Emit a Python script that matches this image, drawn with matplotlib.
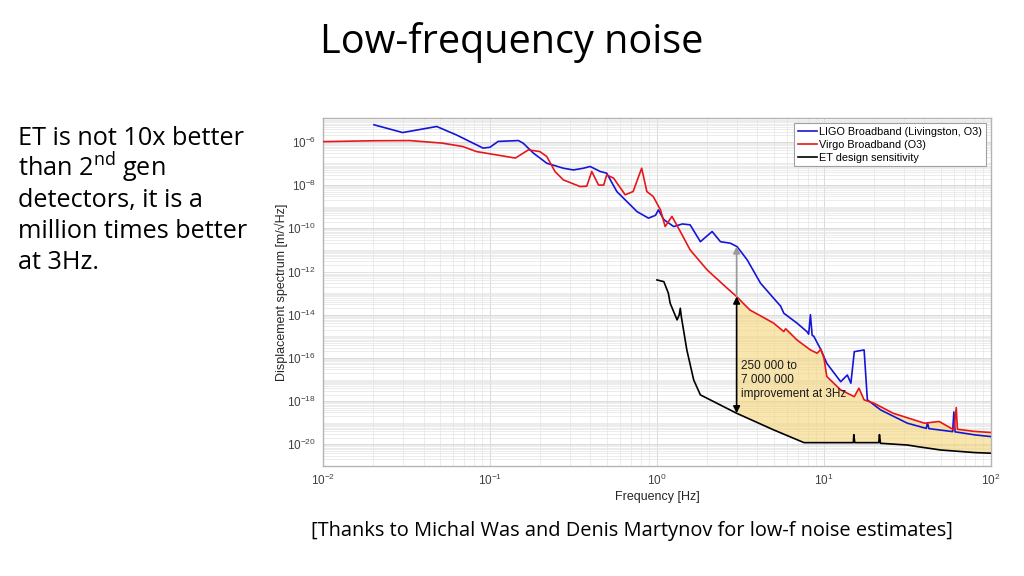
import numpy as np
import matplotlib
matplotlib.use("Agg")
import matplotlib.pyplot as plt
from matplotlib.ticker import LogLocator, NullFormatter

plt.rcParams['font.family'] = ['Liberation Sans', 'DejaVu Sans']
plt.rcParams['axes.unicode_minus'] = False

# LIGO Broadband (Livingston, O3): frequency [Hz], log10 displacement
ligo_f = [0.0202, 0.030, 0.048, 0.063, 0.091, 0.100, 0.112, 0.148, 0.158, 0.182,
          0.219, 0.275, 0.316, 0.363, 0.398, 0.457, 0.50, 0.575, 0.76, 0.89,
          0.98, 1.02, 1.10, 1.26, 1.42, 1.58, 1.82, 2.14, 2.4, 2.75,
          3.02, 3.47, 4.17, 5.0, 5.5, 5.75, 6.9, 7.9, 8.1, 8.3,
          8.5, 8.7, 9.6, 10.4, 12.6, 13.8, 14.5, 15.2, 17.4, 18.2,
          21.9, 31.6, 41.0, 41.7, 42.5, 59.0, 60.0, 61.0, 80.0, 100.0]
ligo_log = [-5.21, -5.57, -5.29, -5.68, -6.29, -6.25, -5.98, -5.94, -6.06, -6.52,
            -6.99, -7.22, -7.30, -7.22, -7.14, -7.37, -7.45, -8.30, -9.23, -9.53,
            -9.40, -9.15, -9.60, -9.92, -9.80, -9.84, -10.62, -10.15, -10.62, -10.69,
            -10.85, -11.46, -12.54, -13.24, -13.60, -13.93, -14.39, -14.78, -14.90, -14.00,
            -14.95, -15.00, -15.63, -16.25, -17.10, -16.79, -17.17, -15.71, -15.63, -17.94,
            -18.41, -19.02, -19.26, -19.00, -19.27, -19.41, -18.50, -19.42, -19.56, -19.64]

# Virgo Broadband (O3)
virgo_f = [0.01, 0.02, 0.033, 0.052, 0.069, 0.083, 0.142, 0.17, 0.199, 0.219,
           0.245, 0.275, 0.347, 0.38, 0.407, 0.447, 0.48, 0.50, 0.55, 0.645,
           0.72, 0.81, 0.87, 0.95, 1.05, 1.12, 1.23, 1.38, 1.58, 2.0,
           2.63, 3.0, 3.6, 5.0, 5.75, 5.9, 6.9, 8.3, 9.1, 9.6,
           10.0, 10.4, 12.6, 15.2, 16.2, 17.4, 20.0, 26.0, 40.0, 49.0,
           60.0, 62.0, 63.0, 80.0, 100.0]
virgo_log = [-5.99, -5.95, -5.94, -6.06, -6.22, -6.45, -6.75, -6.37, -6.45, -6.68,
             -7.37, -7.76, -8.07, -8.05, -7.37, -8.00, -8.00, -7.53, -7.68, -8.45,
             -8.30, -7.22, -8.30, -8.53, -9.15, -9.92, -9.45, -10.15, -11.00, -11.93,
             -12.77, -13.16, -13.78, -14.39, -14.78, -14.65, -15.17, -15.63, -15.78, -15.60,
             -16.00, -16.86, -17.48, -17.79, -17.40, -17.94, -18.10, -18.56, -19.02, -18.94,
             -19.33, -18.30, -19.30, -19.40, -19.45]

# ET design sensitivity
et_f = [1.0, 1.10, 1.17, 1.2, 1.32, 1.36, 1.38, 1.40, 1.51, 1.66,
        1.82, 2.29, 3.0, 5.0, 7.6, 15.0, 15.1, 15.3, 21.3, 21.5,
        21.8, 31.6, 36.0, 50.0, 80.0, 100.0]
et_log = [-12.39, -12.47, -13.00, -13.47, -14.24, -14.00, -13.70, -14.10, -15.63, -17.02,
          -17.71, -18.10, -18.56, -19.33, -19.92, -19.92, -19.55, -19.92, -19.92, -19.55,
          -19.95, -20.03, -20.10, -20.26, -20.38, -20.41]

legend_labels = ['LIGO Broadband (Livingston, O3)', 'Virgo Broadband (O3)', 'ET design sensitivity']
arrow_freq = 3.0
note_text = '250 000 to\n7 000 000\nimprovement at 3Hz'
y_exponents = [-20, -18, -16, -14, -12, -10, -8, -6]
x_exponents = [-2, -1, 0, 1, 2]

ligo_f = np.array(ligo_f); ligo_a = 10.0 ** np.array(ligo_log)
virgo_f = np.array(virgo_f); virgo_a = 10.0 ** np.array(virgo_log)
et_f = np.array(et_f); et_a = 10.0 ** np.array(et_log)

fig = plt.figure(figsize=(10.24, 5.76), dpi=100)
ax = fig.add_axes([0.3154, 0.191, 0.6523, 0.604])

# yellow improvement area between Virgo and ET above 3 Hz
vm = virgo_f >= arrow_freq
em = et_f >= arrow_freq
poly_x = np.concatenate([virgo_f[vm], et_f[em][::-1]])
poly_y = np.concatenate([virgo_a[vm], et_a[em][::-1]])
ax.fill(poly_x, poly_y, color='#f5d67a', alpha=0.6, lw=0, zorder=1)

l1, = ax.loglog(ligo_f, ligo_a, color='#1515d8', lw=1.2, zorder=3)
l2, = ax.loglog(virgo_f, virgo_a, color='#e8161b', lw=1.2, zorder=3)
l3, = ax.loglog(et_f, et_a, color='black', lw=1.2, zorder=3)

def at(f, fs, a):
    return 10 ** np.interp(np.log10(f), np.log10(fs), np.log10(a))

y_et = at(arrow_freq, et_f, et_a)
y_virgo = at(arrow_freq, virgo_f, virgo_a)
y_ligo = at(arrow_freq, ligo_f, ligo_a)
ax.annotate('', xy=(arrow_freq, y_ligo), xytext=(arrow_freq, y_virgo),
            arrowprops=dict(arrowstyle='-|>', color='#9a9a9a', lw=1.2,
                            mutation_scale=10, shrinkA=0, shrinkB=0), zorder=4)
ax.annotate('', xy=(arrow_freq, y_virgo), xytext=(arrow_freq, y_et),
            arrowprops=dict(arrowstyle='<|-|>', color='black', lw=1.2,
                            mutation_scale=10, shrinkA=0, shrinkB=0), zorder=4)
ax.text(3.18, 10 ** -16.1, note_text, fontsize=8.5, va='top', ha='left',
        linespacing=1.2, color='#1a1a1a', zorder=5)

ax.set_xlim(1e-2, 1e2)
ax.set_ylim(1e-21, 10 ** -4.9)
ax.set_yticks([10.0 ** e for e in y_exponents],
              ['$\\mathdefault{10^{%d}}$' % e for e in y_exponents])
ax.set_xticks([10.0 ** e for e in x_exponents],
              ['$\\mathdefault{10^{%d}}$' % e for e in x_exponents])
ax.yaxis.set_minor_locator(LogLocator(base=10, subs=np.arange(1, 10), numticks=100))
ax.yaxis.set_minor_formatter(NullFormatter())
ax.xaxis.set_minor_locator(LogLocator(base=10, subs=np.arange(2, 10), numticks=100))
ax.xaxis.set_minor_formatter(NullFormatter())
ax.grid(which='major', color='#d4d4d4', lw=0.6)
ax.grid(which='minor', color='#e4e4e4', lw=0.5)
ax.set_axisbelow(True)
ax.tick_params(which='both', length=0, labelsize=8.5, labelcolor='#404040', pad=5)
for s in ax.spines.values():
    s.set_color('#b4b4b4')
    s.set_linewidth(1.0)

ax.set_xlabel('Frequency [Hz]', fontsize=9, color='#262626', labelpad=2)
ax.set_ylabel('Displacement spectrum [m/\u221AHz]', fontsize=9, color='#262626')
ax.yaxis.set_label_coords(-0.052, 0.5)

leg = ax.legend([l1, l2, l3], legend_labels, loc='upper right', fontsize=7.8,
                handlelength=1.8, handletextpad=0.2, labelspacing=0.3,
                borderpad=0.3, borderaxespad=0.5, fancybox=False, framealpha=1)
leg.get_frame().set_edgecolor('#a0a0a0')
leg.get_frame().set_linewidth(0.8)

# slide texts
fig.text(0.5, 1 - 52.7 / 576, 'Low-frequency noise', family='Open Sans',
         fontsize=28.5, ha='center', va='baseline')
left_lines = ['ET is not 10x better', 'than 2$^{\\mathdefault{nd}}$ gen',
              'detectors, it is a', 'million times better', 'at 3Hz.']
for i, line in enumerate(left_lines):
    fig.text(18 / 1024, 1 - (145 + 31 * i) / 576, line, family='Open Sans',
             fontsize=18.2, ha='left', va='baseline')
fig.text(632 / 1024, 1 - 536 / 576,
         '[Thanks to Michal Was and Denis Martynov for low-f noise estimates]',
         family='Open Sans', fontsize=14.4, ha='center', va='baseline')

fig.savefig('out.png', dpi=100)
